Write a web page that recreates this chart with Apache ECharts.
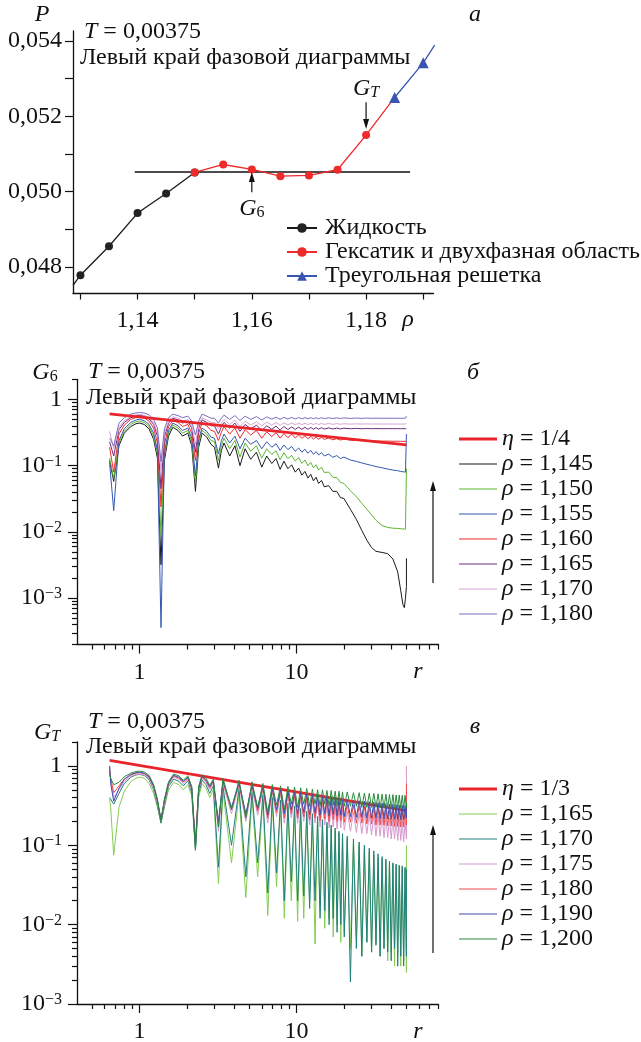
<!DOCTYPE html>
<html><head><meta charset="utf-8">
<script src="https://cdn.jsdelivr.net/npm/echarts@6/dist/echarts.min.js"></script>
<style>html,body{margin:0;padding:0;background:#fff}#c{width:641px;height:1042px}</style>
</head><body><div id="c"></div>
<script>
// ---------- Panel a: P(rho) ----------
const rhoLiquid = [1.1287, 1.13, 1.135, 1.14, 1.145, 1.15];
const pLiquid   = [0.04751, 0.04778, 0.04855, 0.04943, 0.04995, 0.05051];
const rhoHex    = [1.15, 1.155, 1.16, 1.165, 1.17, 1.175, 1.18, 1.185];
const pHex      = [0.05051, 0.05072, 0.05059, 0.05041, 0.05043, 0.05058, 0.05150, 0.05250];
const rhoTri    = [1.185, 1.19, 1.192];
const pTri      = [0.05250, 0.05342, 0.05389];
const rhoCoex   = [1.1395, 1.1877];
const pCoex     = [0.05052, 0.05052];
const rhoTicks  = [1.13, 1.14, 1.15, 1.16, 1.17, 1.18, 1.19];
const rhoLabels = [1.14, 1.16, 1.18];
const pTicks    = [0.048, 0.049, 0.050, 0.051, 0.052, 0.053, 0.054];
const pLabels   = [0.048, 0.050, 0.052, 0.054];

// ---------- Panel b: G6(r) ----------
const rB = [0.645,0.685,0.74,0.8,0.88,0.95,1.0,1.07,1.15,1.23,1.3,1.37,1.44,1.53,1.63,1.76,1.88,2.03,2.15,2.27,2.38,2.5,2.68,2.85,3.0,3.18,3.32,3.45,
 3.75,4.05,4.36,4.7,5.1,5.55,6.0,6.45,6.95,7.4,7.85,8.3,8.8,9.3,9.8,10.3,10.8,11.3,11.8,12.3,12.8,13.3,13.8,14.4,15,16,17,18,19,20,
 22,24,26,28,30,32,35,38,41,44,46,47.5,48.5,49.3,50,50];
const g6_1145 = [0.12,0.058,0.2,0.31,0.39,0.43,0.44,0.42,0.36,0.25,0.13,0.0032,0.12,0.28,0.38,0.34,0.28,0.31,0.2,0.041,0.19,0.31,0.27,0.21,0.19,0.092,0.17,0.22,
 0.14,0.2,0.1,0.18,0.125,0.16,0.095,0.14,0.108,0.128,0.088,0.117,0.09,0.103,0.08,0.092,0.072,0.082,0.065,0.074,0.059,0.067,0.054,0.06,0.048,0.05,0.041,0.041,0.033,0.032,
 0.022,0.0155,0.0105,0.0075,0.0058,0.0051,0.0049,0.0047,0.0039,0.0025,0.0013,0.0008,0.00072,0.001,0.0015,0.004];
const g6_1150 = [0.13,0.065,0.22,0.33,0.42,0.46,0.47,0.45,0.39,0.28,0.15,0.009,0.14,0.31,0.41,0.37,0.31,0.34,0.23,0.055,0.22,0.34,0.3,0.24,0.23,0.12,0.2,0.26,
 0.18,0.24,0.135,0.22,0.165,0.2,0.13,0.18,0.148,0.168,0.123,0.157,0.128,0.143,0.117,0.133,0.108,0.122,0.1,0.112,0.093,0.103,0.086,0.095,0.079,0.08,0.067,0.066,0.056,0.054,
 0.042,0.034,0.027,0.022,0.018,0.015,0.0125,0.0117,0.0114,0.0113,0.0112,0.0111,0.011,0.011,0.011,0.09];
const g6_1155 = [0.11,0.021,0.24,0.36,0.45,0.49,0.5,0.48,0.42,0.31,0.17,0.00036,0.16,0.34,0.44,0.4,0.34,0.37,0.26,0.07,0.25,0.37,0.33,0.27,0.26,0.15,0.24,0.3,
 0.22,0.28,0.18,0.26,0.21,0.24,0.18,0.23,0.19,0.215,0.17,0.205,0.175,0.195,0.165,0.185,0.16,0.177,0.154,0.17,0.149,0.163,0.145,0.158,0.14,0.15,0.134,0.142,0.128,0.135,
 0.122,0.116,0.11,0.105,0.101,0.097,0.093,0.089,0.086,0.084,0.082,0.081,0.081,0.08,0.08,0.3];
const g6_1160 = [0.19,0.08,0.3,0.41,0.5,0.535,0.545,0.53,0.47,0.37,0.22,0.024,0.21,0.39,0.48,0.45,0.39,0.42,0.31,0.12,0.31,0.44,0.4,0.34,0.33,0.24,0.32,0.39,
 0.3,0.37,0.26,0.35,0.29,0.34,0.26,0.325,0.275,0.315,0.26,0.305,0.265,0.3,0.262,0.29,0.258,0.283,0.255,0.277,0.253,0.272,0.251,0.268,0.249,0.262,0.246,0.256,0.244,0.252,
 0.243,0.241,0.239,0.238,0.237,0.236,0.235,0.235,0.234,0.234,0.233,0.233,0.233,0.233,0.233,0.233];
const g6_1165 = [0.23,0.14,0.35,0.45,0.53,0.565,0.575,0.56,0.51,0.42,0.28,0.045,0.27,0.44,0.52,0.49,0.44,0.47,0.37,0.16,0.37,0.49,0.45,0.4,0.4,0.3,0.39,0.45,
 0.37,0.44,0.33,0.42,0.36,0.41,0.34,0.4,0.355,0.395,0.345,0.39,0.352,0.385,0.352,0.382,0.353,0.38,0.354,0.378,0.355,0.376,0.356,0.374,0.357,0.372,0.358,0.37,0.359,0.368,
 0.361,0.366,0.361,0.364,0.362,0.363,0.362,0.362,0.362,0.362,0.362,0.362,0.362,0.362,0.362,0.37];
const g6_1170 = [0.33,0.18,0.38,0.48,0.55,0.585,0.595,0.58,0.535,0.45,0.32,0.085,0.31,0.47,0.55,0.52,0.47,0.5,0.41,0.21,0.41,0.53,0.49,0.45,0.45,0.36,0.44,0.5,
 0.42,0.49,0.39,0.47,0.41,0.46,0.4,0.455,0.41,0.45,0.405,0.445,0.412,0.442,0.414,0.44,0.416,0.437,0.417,0.436,0.418,0.435,0.419,0.434,0.42,0.433,0.421,0.432,0.422,0.43,
 0.424,0.428,0.425,0.427,0.425,0.426,0.425,0.425,0.425,0.425,0.425,0.425,0.425,0.425,0.425,0.44];
const g6_1180 = [0.26,0.2,0.44,0.53,0.6,0.625,0.635,0.625,0.585,0.5,0.37,0.115,0.36,0.53,0.6,0.57,0.53,0.56,0.47,0.29,0.47,0.6,0.56,0.52,0.52,0.44,0.52,0.58,
 0.5,0.57,0.48,0.56,0.5,0.55,0.49,0.545,0.505,0.54,0.5,0.537,0.507,0.535,0.508,0.533,0.51,0.532,0.511,0.531,0.512,0.53,0.513,0.529,0.514,0.528,0.515,0.527,0.516,0.526,
 0.517,0.524,0.518,0.523,0.519,0.522,0.52,0.52,0.52,0.52,0.52,0.52,0.52,0.52,0.52,0.56];
const rEta   = [0.645, 50];
const etaB   = [0.604, 0.2055];   // eta = 1/4
const etaC   = [1.17, 0.274];     // eta = 1/3

// ---------- Panel c: GT(r) ----------
const rC = [0.645,0.655,0.685,0.74,0.8,0.88,0.95,1.0,1.07,1.15,1.23,1.3,1.37,1.44,1.53,1.65,1.78,1.9,2.03,2.15,2.27,2.38,2.5,2.65,2.8,2.95,3.18,3.4,
 3.85,4.3,4.75,5.2,5.65,6.1,6.55,7.0,7.45,7.9,8.35,8.8,9.25,9.7,10.15,
 10.6,11.1,11.6,12.1,12.6,13.1,13.6,14.1,14.6,15.1,15.6,16.1,16.6,17.1,17.6,18.1,18.6,19.1,19.6,20.1,
 21,22,23,24,25,26,27,28,29,30,31,32,33,34,35,36,37,38,39,40,41,42,43,44,45,46,47,48,49,50,
 50];
const gt_1165 = [0.38,0.3,0.075,0.3,0.48,0.63,0.7,0.72,0.7,0.6,0.45,0.3,0.19,0.3,0.5,0.62,0.58,0.5,0.58,0.42,0.085,0.4,0.6,0.52,0.4,0.5,0.033,0.48,
 0.06,0.45,0.022,0.4,0.04,0.37,0.013,0.34,0.03,0.32,0.012,0.3,0.02,0.28,0.011,
 0.27,0.012,0.25,0.02,0.23,0.0057,0.21,0.015,0.19,0.009,0.175,0.012,0.16,0.007,0.15,0.01,0.14,0.006,0.13,0.008,
 0.12,0.005,0.11,0.007,0.1,0.004,0.09,0.006,0.082,0.0045,0.075,0.006,0.07,0.004,0.066,0.005,0.062,0.0035,0.06,0.0045,0.058,0.003,0.056,0.004,0.054,0.003,0.052,0.0035,0.05,0.0025,
 0.1];
const gt_1170 = [0.4,0.38,0.33,0.45,0.6,0.72,0.77,0.78,0.76,0.67,0.5,0.32,0.19,0.32,0.55,0.68,0.64,0.56,0.65,0.46,0.088,0.45,0.66,0.58,0.45,0.56,0.053,0.55,
 0.1,0.52,0.04,0.47,0.06,0.43,0.025,0.4,0.045,0.37,0.02,0.34,0.035,0.31,0.02,
 0.29,0.023,0.27,0.016,0.25,0.02,0.23,0.012,0.21,0.015,0.195,0.01,0.18,0.012,0.165,0.008,0.15,0.01,0.14,0.007,
 0.13,0.0019,0.12,0.005,0.11,0.004,0.1,0.006,0.092,0.0045,0.085,0.0055,0.078,0.004,0.072,0.005,0.067,0.0045,0.063,0.0035,0.06,0.005,0.058,0.003,0.056,0.004,0.055,0.003,0.053,0.004,
 0.05];
const gt_1175 = [1.0,0.7,0.4,0.5,0.64,0.74,0.78,0.79,0.77,0.69,0.52,0.34,0.2,0.34,0.58,0.72,0.68,0.6,0.68,0.5,0.1,0.5,0.7,0.62,0.5,0.6,0.15,0.6,
 0.25,0.57,0.2,0.53,0.24,0.5,0.19,0.47,0.23,0.45,0.19,0.43,0.22,0.41,0.19,
 0.39,0.2,0.37,0.18,0.36,0.19,0.34,0.17,0.33,0.18,0.32,0.165,0.31,0.17,0.3,0.16,0.29,0.165,0.28,0.155,
 0.27,0.15,0.26,0.145,0.255,0.14,0.25,0.14,0.245,0.135,0.24,0.13,0.235,0.13,0.23,0.125,0.225,0.125,0.22,0.12,0.215,0.12,0.21,0.115,0.21,0.115,0.205,0.11,0.2,0.12,
 1.0];
const gt_1180 = [0.9,0.7,0.46,0.56,0.68,0.77,0.81,0.82,0.8,0.72,0.55,0.36,0.21,0.36,0.6,0.75,0.7,0.63,0.7,0.52,0.11,0.52,0.72,0.64,0.53,0.63,0.18,0.63,
 0.28,0.6,0.23,0.56,0.27,0.53,0.22,0.5,0.26,0.48,0.22,0.46,0.25,0.44,0.22,
 0.42,0.23,0.41,0.21,0.4,0.22,0.39,0.205,0.38,0.215,0.37,0.2,0.36,0.21,0.35,0.2,0.345,0.205,0.34,0.195,
 0.33,0.195,0.32,0.19,0.315,0.19,0.31,0.185,0.305,0.185,0.3,0.18,0.295,0.18,0.29,0.178,0.285,0.176,0.28,0.175,0.278,0.173,0.275,0.172,0.272,0.17,0.27,0.17,0.268,0.18,
 0.6];
const gt_1190 = [1.0,0.6,0.36,0.52,0.68,0.78,0.82,0.83,0.81,0.73,0.56,0.37,0.21,0.37,0.61,0.76,0.72,0.64,0.72,0.53,0.1,0.53,0.74,0.66,0.55,0.65,0.2,0.65,
 0.3,0.62,0.25,0.58,0.29,0.56,0.24,0.53,0.28,0.51,0.25,0.49,0.28,0.47,0.25,
 0.46,0.26,0.45,0.245,0.44,0.255,0.43,0.24,0.42,0.25,0.41,0.235,0.405,0.245,0.4,0.235,0.39,0.24,0.385,0.23,
 0.38,0.23,0.37,0.225,0.365,0.225,0.36,0.22,0.355,0.22,0.35,0.218,0.345,0.216,0.34,0.215,0.335,0.214,0.33,0.213,0.328,0.212,0.325,0.211,0.322,0.21,0.32,0.21,0.318,0.22,
 0.3];
const gt_1200 = [0.8,0.7,0.58,0.62,0.73,0.81,0.85,0.86,0.84,0.76,0.58,0.38,0.2,0.38,0.63,0.79,0.75,0.66,0.75,0.55,0.088,0.55,0.77,0.7,0.57,0.68,0.17,0.7,
 0.28,0.66,0.22,0.63,0.3,0.6,0.26,0.58,0.32,0.56,0.28,0.55,0.33,0.54,0.3,
 0.53,0.33,0.52,0.31,0.51,0.33,0.5,0.31,0.5,0.33,0.49,0.31,0.49,0.32,0.48,0.31,0.48,0.32,0.47,0.31,
 0.47,0.31,0.46,0.31,0.46,0.3,0.455,0.3,0.45,0.3,0.45,0.3,0.445,0.295,0.44,0.295,0.44,0.295,0.435,0.29,0.435,0.29,0.43,0.29,0.43,0.29,0.425,0.29,0.425,0.3,
 0.35];

// ---------- log-axis tick values ----------
const rMajor = [1, 10];
const rMinor = [0.5,0.6,0.7,0.8,0.9,2,3,4,5,6,7,8,9,20,30,40,50,60,70,80];
const gMajor = [0.001, 0.01, 0.1, 1];
const gMinorB = [0.0002,0.0003,0.0004,0.0005,0.0006,0.0007,0.0008,0.0009,0.002,0.003,0.004,0.005,0.006,0.007,0.008,0.009,
 0.02,0.03,0.04,0.05,0.06,0.07,0.08,0.09,0.2,0.3,0.4,0.5,0.6,0.7,0.8,0.9,2];
const gMinorC = [0.002,0.003,0.004,0.005,0.006,0.007,0.008,0.009,0.02,0.03,0.04,0.05,0.06,0.07,0.08,0.09,0.2,0.3,0.4,0.5,0.6,0.7,0.8,0.9,2];

// ================= chart =================
const FONT = '"Liberation Serif", "Times New Roman", serif';
const FS = 24;
const INK = '#111';
const chart = echarts.init(document.getElementById('c'), null, {renderer: 'canvas'});

const zip = (xs, ys) => xs.map((x, i) => [x, ys[i]]);
const supFmt = v => {
  if (Math.abs(v - 1) < 1e-9) return '{b|1}';
  return '{b|10}{s|−' + Math.round(-Math.log10(v)) + '}';
};
const richSup = {
  b: {fontFamily: FONT, fontSize: FS, color: INK},
  s: {fontFamily: FONT, fontSize: 16, color: INK, verticalAlign: 'top'}
};

function logX(grid, values, len, labels) {
  return {
    type: 'log', logBase: 10, gridIndex: grid, min: 0.4, max: 80, position: 'bottom', offset: 0,
    axisLine: {show: labels, onZero: false, lineStyle: {color: INK, width: 1.3}},
    axisTick: {show: true, length: len, customValues: values, lineStyle: {color: INK, width: 1.2}},
    axisLabel: labels ? {show: true, customValues: values, margin: 16, fontFamily: FONT, fontSize: FS, color: INK,
                         formatter: v => String(Math.round(v))} : {show: false},
    splitLine: {show: false}, minorTick: {show: false}
  };
}
function logY(grid, min, values, len, labels) {
  return {
    type: 'log', logBase: 10, gridIndex: grid, min: min, max: 2, position: 'left', offset: 0,
    axisLine: {show: labels, onZero: false, lineStyle: {color: INK, width: 1.3}},
    axisTick: {show: true, length: len, customValues: values, lineStyle: {color: INK, width: 1.2}},
    axisLabel: labels ? {show: true, customValues: values, margin: 15, formatter: supFmt, rich: richSup} : {show: false},
    splitLine: {show: false}, minorTick: {show: false}
  };
}

function curve(name, xs, ys, color, width, xi, yi, z) {
  return {type: 'line', name: name, xAxisIndex: xi, yAxisIndex: yi, data: zip(xs, ys),
          symbol: 'none', showSymbol: false, lineStyle: {color: color, width: width}, itemStyle: {color: color},
          animation: false, silent: true, z: z || 2, clip: true};
}

const colB = {k: '#1a1a1a', g: '#5cb531', b: '#3458b3', r: '#ee2b2b', p: '#6e2c7e', pk: '#dca3d5', v: '#7b6cc0', eta: '#e8252b'};
const colC = {lg: '#86cc55', t: '#22807c', pk: '#d699cf', r: '#f04a4a', b: '#3c4db0', dg: '#2a8a3e', eta: '#e8252b'};

const seriesB = [
  curve('b:1,145', rB, g6_1145, colB.k, 1, 1, 1),
  curve('b:1,150', rB, g6_1150, colB.g, 1, 1, 1),
  curve('b:1,155', rB, g6_1155, colB.b, 1, 1, 1),
  curve('b:1,160', rB, g6_1160, colB.r, 1, 1, 1),
  curve('b:1,165', rB, g6_1165, colB.p, 1, 1, 1),
  curve('b:1,170', rB, g6_1170, colB.pk, 1, 1, 1),
  curve('b:1,180', rB, g6_1180, colB.v, 1, 1, 1),
  curve('b:eta', rEta, etaB, colB.eta, 2.8, 1, 1, 3)
];
const seriesC = [
  curve('c:eta', rEta, etaC, colC.eta, 2.8, 3, 3, 2),
  curve('c:1,165', rC, gt_1165, colC.lg, 1, 3, 3),
  curve('c:1,170', rC, gt_1170, colC.t, 1, 3, 3),
  curve('c:1,175', rC, gt_1175, colC.pk, 1, 3, 3),
  curve('c:1,180', rC, gt_1180, colC.r, 1, 3, 3),
  curve('c:1,190', rC, gt_1190, colC.b, 1, 3, 3),
  curve('c:1,200', rC, gt_1200, colC.dg, 1, 3, 3)
];

const withMarkers = (xs, ys, firstNone, lastNoneFlag) => xs.map((x, i) => {
  const item = {value: [x, ys[i]]};
  if ((firstNone && i === 0) || (lastNoneFlag && i === xs.length - 1)) item.symbol = 'none';
  return item;
});

const seriesA = [
  {type: 'line', name: 'coex', xAxisIndex: 0, yAxisIndex: 0, data: zip(rhoCoex, pCoex), symbol: 'none',
   lineStyle: {color: INK, width: 1.3}, itemStyle: {color: INK}, animation: false, silent: true, z: 1},
  {type: 'line', name: 'Жидкость', xAxisIndex: 0, yAxisIndex: 0, data: withMarkers(rhoLiquid, pLiquid, true, false),
   symbol: 'circle', symbolSize: 8, showAllSymbol: true, lineStyle: {color: '#1a1a1a', width: 1.3}, itemStyle: {color: '#222'}, animation: false, silent: true, z: 3},
  {type: 'line', name: 'Гексатик и двухфазная область', xAxisIndex: 0, yAxisIndex: 0, data: withMarkers(rhoHex, pHex, false, true),
   symbol: 'circle', symbolSize: 8, showAllSymbol: true, lineStyle: {color: '#ee2a2a', width: 1.3}, itemStyle: {color: '#ee2a2a'}, animation: false, silent: true, z: 3},
  {type: 'line', name: 'Треугольная решетка', xAxisIndex: 0, yAxisIndex: 0, data: withMarkers(rhoTri, pTri, false, true),
   symbol: 'triangle', symbolSize: 11, showAllSymbol: true, lineStyle: {color: '#3a55b0', width: 1.3}, itemStyle: {color: '#3a55b0'}, animation: false, silent: true, z: 4}
];

const legendText = {fontFamily: FONT, fontSize: FS, color: INK, lineHeight: 24,
  rich: {i: {fontFamily: FONT, fontSize: FS, fontStyle: 'italic', color: INK, lineHeight: 24}}};
const legFmt = name => {
  const v = name.split(':')[1];
  if (v === 'eta') return '{i|η} = ' + (name[0] === 'b' ? '1/4' : '1/3');
  return '{i|ρ} = ' + v;
};
const ICON_THIN = 'path://M0,0M38,12M0,5.4h38v1.2h-38z';
const ICON_THICK = 'path://M0,0M38,12M0,4.6h38v2.8h-38z';
const legItems = names => names.map(n => ({name: n, icon: n.indexOf('eta') >= 0 ? ICON_THICK : ICON_THIN}));

const option = {
  backgroundColor: '#fff',
  animation: false,
  grid: [
    {left: 73, top: 31, width: 360.5, height: 262.5, outerBoundsMode: 'none', containLabel: false},
    {left: 77, top: 379.5, width: 361.5, height: 265, outerBoundsMode: 'none', containLabel: false},
    {left: 77, top: 742, width: 361.5, height: 262, outerBoundsMode: 'none', containLabel: false}
  ],
  xAxis: [
    {type: 'value', gridIndex: 0, min: 1.1287, max: 1.1918, position: 'bottom',
     axisLine: {onZero: false, lineStyle: {color: INK, width: 1.3}},
     axisTick: {length: 6, customValues: rhoTicks, lineStyle: {color: INK, width: 1.2}},
     axisLabel: {customValues: rhoLabels, margin: 15, fontFamily: FONT, fontSize: FS, color: INK,
                 formatter: v => v.toFixed(2).replace('.', ',')},
     splitLine: {show: false}},
    logX(1, rMajor, 9, true),
    logX(1, rMinor, 5, false),
    logX(2, rMajor, 9, true),
    logX(2, rMinor, 5, false)
  ],
  yAxis: [
    {type: 'value', gridIndex: 0, min: 0.047294, max: 0.054265, position: 'left',
     axisLine: {onZero: false, lineStyle: {color: INK, width: 1.3}},
     axisTick: {length: 8, customValues: pTicks, lineStyle: {color: INK, width: 1.2}},
     axisLabel: {customValues: pLabels, margin: 11, fontFamily: FONT, fontSize: FS, color: INK,
                 formatter: v => v.toFixed(3).replace('.', ',')},
     splitLine: {show: false}},
    logY(1, 0.0002, gMajor, 9, true),
    logY(1, 0.0002, gMinorB, 5, false),
    logY(2, 0.001, gMajor, 9, true),
    logY(2, 0.001, gMinorC, 5, false)
  ],
  legend: [
    {left: 286, top: 216, orient: 'vertical', padding: 0, itemGap: 0, itemWidth: 30, itemHeight: 12,
     data: ['Жидкость', 'Гексатик и двухфазная область', 'Треугольная решетка'],
     textStyle: {fontFamily: FONT, fontSize: FS, color: INK, lineHeight: 24, padding: [0, 0, 0, 3]}, selectedMode: false},
    {left: 459, top: 427, orient: 'vertical', padding: 0, itemGap: 1, itemWidth: 38, itemHeight: 12,
     data: legItems(['b:eta', 'b:1,145', 'b:1,150', 'b:1,155', 'b:1,160', 'b:1,165', 'b:1,170', 'b:1,180']),
     formatter: legFmt, textStyle: legendText, selectedMode: false},
    {left: 459, top: 777, orient: 'vertical', padding: 0, itemGap: 1, itemWidth: 38, itemHeight: 12,
     data: legItems(['c:eta', 'c:1,165', 'c:1,170', 'c:1,175', 'c:1,180', 'c:1,190', 'c:1,200']),
     formatter: legFmt, textStyle: legendText, selectedMode: false}
  ],
  series: [].concat(seriesA, seriesB, seriesC)
};
chart.setOption(option);

// ---------- annotations ----------
function txt(x, y, text, align, rich) {
  return {type: 'text', x: x, y: y, z: 50, silent: true,
          style: {text: text, fill: INK, fontFamily: FONT, fontSize: FS, align: align || 'left', verticalAlign: 'middle',
                  rich: rich || {i: {fontFamily: FONT, fontSize: FS, fontStyle: 'italic', fill: INK}}}};
}
const subRich = {
  g: {fontFamily: FONT, fontSize: FS, fontStyle: 'italic', fill: INK},
  s: {fontFamily: FONT, fontSize: 16, fill: INK, verticalAlign: 'bottom', padding: [8, 0, 0, 0]},
  si: {fontFamily: FONT, fontSize: 16, fontStyle: 'italic', fill: INK, verticalAlign: 'bottom', padding: [8, 0, 0, 0]}
};
function arrow(x1, y1, x2, y2) {
  const dir = y2 < y1 ? 1 : -1;
  return [
    {type: 'line', z: 50, silent: true, shape: {x1: x1, y1: y1, x2: x2, y2: y2 + dir * 8}, style: {stroke: INK, lineWidth: 1.2}},
    {type: 'polygon', z: 50, silent: true, shape: {points: [[x2, y2], [x2 - 3, y2 + dir * 10], [x2 + 3, y2 + dir * 10]]}, style: {fill: INK}}
  ];
}
const px = (x, y) => chart.convertToPixel({xAxisIndex: 0, yAxisIndex: 0}, [x, y]);
const g6a = px(1.16, 0.04998), g6b = px(1.16, 0.05052), g6l = px(1.16, 0.04954);
const gta = px(1.18, 0.05237), gtb = px(1.18, 0.05166), gtl = px(1.18, 0.05274);

const graphics = [].concat(
  [txt(42, 15, '{i|P}', 'center'),
   txt(84, 32, '{i|T} = 0,00375'),
   txt(80, 58, 'Левый край фазовой диаграммы'),
   txt(475, 15, '{i|а}', 'center'),
   txt(408, 320, '{i|ρ}', 'center'),
   txt(g6l[0], g6l[1], '{g|G}{s|6}', 'center', subRich),
   txt(gtl[0], gtl[1], '{g|G}{si|T}', 'center', subRich)],
  arrow(g6a[0], g6a[1], g6b[0], g6b[1]),
  arrow(gta[0], gta[1], gtb[0], gtb[1]),
  [txt(45, 373, '{g|G}{s|6}', 'center', subRich),
   txt(88, 372, '{i|T} = 0,00375'),
   txt(86, 398, 'Левый край фазовой диаграммы'),
   txt(473, 373, '{i|б}', 'center'),
   txt(418, 672, '{i|r}', 'center')],
  arrow(433, 583, 433, 481),
  [txt(47, 733, '{g|G}{si|T}', 'center', subRich),
   txt(88, 722, '{i|T} = 0,00375'),
   txt(86, 747, 'Левый край фазовой диаграммы'),
   txt(475, 727, '{i|в}', 'center'),
   txt(418, 1032, '{i|r}', 'center')],
  arrow(433, 953, 433, 825)
);
chart.setOption({graphic: graphics});
</script>
</body></html>
